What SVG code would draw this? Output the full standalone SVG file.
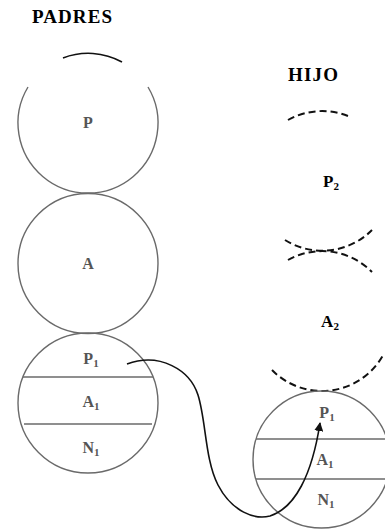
<svg xmlns="http://www.w3.org/2000/svg" width="385" height="531" viewBox="0 0 385 531">
<defs>
<style>
.c{fill:none;stroke:#6a6a6a;stroke-width:1.4}
.k{fill:none;stroke:#111;stroke-width:1.6}
.d{fill:none;stroke:#111;stroke-width:2;stroke-dasharray:7 4}
.t{font-family:"Liberation Serif",serif;font-weight:bold;font-size:16px;fill:#555;text-anchor:middle}
.u{font-family:"Liberation Serif",serif;font-weight:bold;font-size:17px;fill:#000;text-anchor:middle}
.h{font-family:"Liberation Serif",serif;font-weight:bold;font-size:19px;fill:#000}
.s{font-size:11px}
</style>
<marker id="ar" viewBox="0 0 10 10" refX="9" refY="5" markerWidth="9" markerHeight="9" markerUnits="userSpaceOnUse" orient="auto">
<path d="M0,0 L10,5 L0,10 z" fill="#111"/>
</marker>
</defs>
<rect width="385" height="531" fill="#fff"/>
<text class="h" x="32" y="23" textLength="80">PADRES</text>
<text class="h" x="288" y="81" textLength="50">HIJO</text>
<g id="padres-p">
<path class="c" d="M28,87 A70,70 0 1 0 148,87"/>
<path class="k" d="M63,58 A70,70 0 0 1 122,62"/>
<text class="t" x="88" y="128">P</text>
</g>
<g id="padres-a">
<circle class="c" cx="88" cy="263.5" r="70"/>
<text class="t" x="88" y="269">A</text>
</g>
<g id="padres-pan">
<circle class="c" cx="88" cy="403" r="70"/>
<line class="c" x1="23" y1="377" x2="153" y2="377"/>
<line class="c" x1="24" y1="424" x2="152" y2="424"/>
<text class="t" x="91" y="364">P<tspan class="s" dy="3">1</tspan></text>
<text class="t" x="91" y="407">A<tspan class="s" dy="3">1</tspan></text>
<text class="t" x="91" y="453">N<tspan class="s" dy="3">1</tspan></text>
</g>
<g id="hijo-p2">
<path class="d" d="M288,120 A70,70 0 0 1 348,116"/>
<path class="d" d="M285,240 A70,70 0 0 0 372,230"/>
<text class="u" x="331" y="187">P<tspan class="s" dy="3">2</tspan></text>
</g>
<g id="hijo-a2">
<path class="d" d="M288,260 A70,70 0 0 1 372,272"/>
<path class="d" d="M272,370 A70,70 0 0 0 384,353.5"/>
<text class="u" x="330" y="327">A<tspan class="s" dy="3">2</tspan></text>
</g>
<g id="hijo-pan">
<circle class="c" cx="321.5" cy="459.5" r="68.5"/>
<line class="c" x1="256" y1="439" x2="385" y2="439"/>
<line class="c" x1="256" y1="479" x2="385" y2="479"/>
<text class="t" x="327" y="418">P<tspan class="s" dy="3">1</tspan></text>
<text class="t" x="325" y="465">A<tspan class="s" dy="3">1</tspan></text>
<text class="t" x="326" y="505">N<tspan class="s" dy="3">1</tspan></text>
</g>
<g id="connectors">
<path class="k" stroke="#333" d="M127,364 C160,352 190,370 198,395 C206,420 205,460 218,485 C232,512 255,520 270,516 C295,508 312,475 320,423" marker-end="url(#ar)"/>
</g>
</svg>
